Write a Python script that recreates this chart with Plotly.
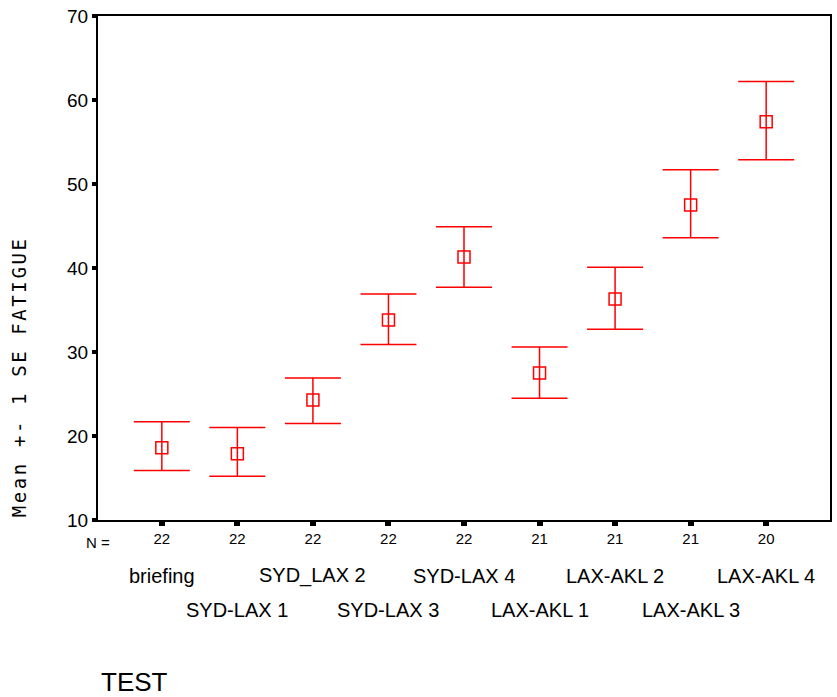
import plotly.graph_objects as go

# Fatigue by test occasion: mean with +/- 1 standard error
tests = ["briefing", "SYD-LAX 1", "SYD_LAX 2", "SYD-LAX 3", "SYD-LAX 4",
         "LAX-AKL 1", "LAX-AKL 2", "LAX-AKL 3", "LAX-AKL 4"]
n_counts = [22, 22, 22, 22, 22, 21, 21, 21, 20]
mean_fatigue = [18.6, 17.9, 24.3, 33.8, 41.3, 27.5, 36.3, 47.5, 57.4]
upper_se = [21.7, 21.0, 26.9, 36.9, 44.9, 30.6, 40.1, 51.7, 62.2]
lower_se = [15.9, 15.2, 21.5, 30.9, 37.7, 24.5, 32.7, 43.6, 52.9]

y_ticks = [10, 20, 30, 40, 50, 60, 70]

xs = list(range(len(tests)))
err_plus = [u - m for u, m in zip(upper_se, mean_fatigue)]
err_minus = [m - l for m, l in zip(mean_fatigue, lower_se)]

RED = "#ff0000"
FONT = "Liberation Sans, Arial, sans-serif"

fig = go.Figure()
fig.add_trace(go.Scatter(
    x=xs, y=mean_fatigue, mode="markers",
    marker=dict(symbol="square-open", size=12, color=RED, line=dict(width=1.5, color=RED)),
    error_y=dict(type="data", symmetric=False, array=err_plus, arrayminus=err_minus,
                 color=RED, thickness=1.5, width=28),
    showlegend=False, hoverinfo="skip",
))

annotations = []
# category names in two staggered rows under the counts
for i, name in enumerate(tests):
    annotations.append(dict(
        x=i, xref="x", y=-0.111 if i % 2 == 0 else -0.1786, yref="paper",
        text=name, showarrow=False, xanchor="center", yanchor="middle",
        font=dict(family=FONT, size=20, color="black"),
    ))
annotations.append(dict(
    x=0.0, xref="paper", y=-0.0437, yref="paper", text="N =", showarrow=False,
    xanchor="center", yanchor="middle", font=dict(family=FONT, size=15, color="black"),
))
annotations.append(dict(
    x=0.002, xref="paper", y=-0.321, yref="paper", text="TEST", showarrow=False,
    xanchor="left", yanchor="middle", font=dict(family=FONT, size=26, color="black"),
))
annotations.append(dict(
    x=-0.1076, xref="paper", y=0.2837, yref="paper", text="Mean +- 1 SE FATIGUE",
    showarrow=False, textangle=-90, xanchor="center", yanchor="middle",
    font=dict(family="DejaVu Sans Mono, monospace", size=19, color="black"),
))

fig.update_layout(
    width=837, height=697,
    margin=dict(l=98, r=5, t=16, b=177),
    paper_bgcolor="white", plot_bgcolor="white",
    annotations=annotations,
    xaxis=dict(
        range=[-0.845, len(tests) - 1 + 0.845],
        tickmode="array", tickvals=xs, ticktext=[str(n) for n in n_counts],
        ticks="outside", ticklen=4, tickwidth=6, tickcolor="black",
        tickfont=dict(family=FONT, size=15, color="black"),
        showgrid=False, zeroline=False,
        showline=True, linecolor="black", linewidth=2, mirror=True,
    ),
    yaxis=dict(
        range=[10, 70], tickmode="array", tickvals=y_ticks,
        ticks="outside", ticklen=4, tickwidth=4, tickcolor="black",
        tickfont=dict(family=FONT, size=19, color="black"),
        showgrid=False, zeroline=False,
        showline=True, linecolor="black", linewidth=2, mirror=True,
    ),
)

# widen the character spacing of the rotated axis title
spacing_js = """
document.querySelectorAll('.annotation-text').forEach(function (t) {
  if (t.textContent.indexOf('Mean') === 0) { t.style.letterSpacing = '2.6px'; }
});
"""

fig.write_html("out.html", post_script=spacing_js)
